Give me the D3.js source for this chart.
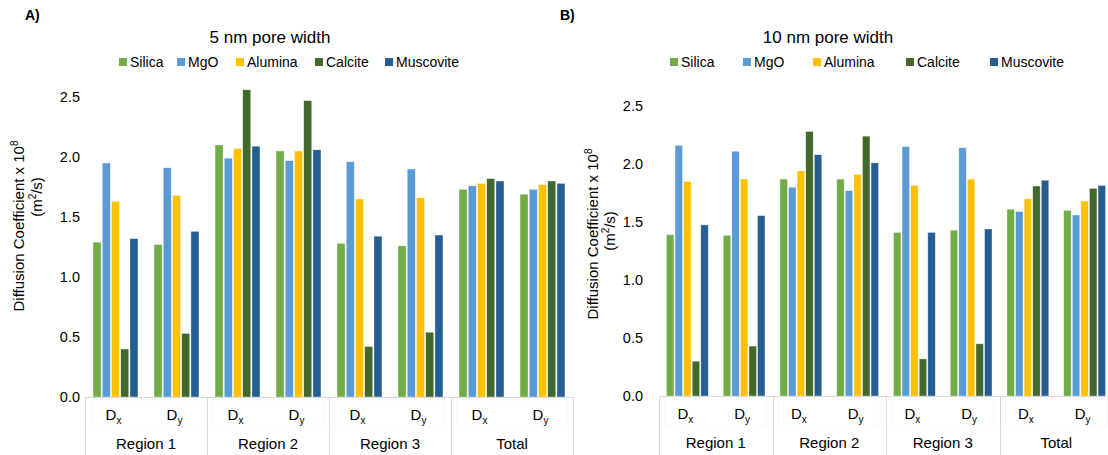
<!DOCTYPE html>
<html><head><meta charset="utf-8">
<script src="https://cdn.jsdelivr.net/npm/d3@7"></script>
<style>
body{margin:0;background:#fff;}
text{font-family:"Liberation Sans",Arial,sans-serif;fill:#404040;}
</style></head>
<body><svg id="c" width="1108" height="455"></svg>
<script>
const series = ["Silica","MgO","Alumina","Calcite","Muscovite"];
const colors = ["#70AD47","#5B9BD5","#FFC000","#43682B","#255E91"];
const regions = ["Region 1","Region 2","Region 3","Total"];
const dirs = ["x","y"];
const yTicks = [0,0.5,1.0,1.5,2.0,2.5];

// values per series, order: R1 Dx, R1 Dy, R2 Dx, R2 Dy, R3 Dx, R3 Dy, Total Dx, Total Dy
const silica5    = [1.29,1.27,2.10,2.05,1.28,1.26,1.73,1.69];
const mgo5       = [1.95,1.91,1.99,1.97,1.96,1.90,1.76,1.73];
const alumina5   = [1.63,1.68,2.07,2.05,1.65,1.66,1.78,1.77];
const calcite5   = [0.40,0.53,2.56,2.47,0.42,0.54,1.82,1.80];
const muscovite5 = [1.32,1.38,2.09,2.06,1.34,1.35,1.80,1.78];

const silica10    = [1.39,1.385,1.87,1.87,1.41,1.43,1.61,1.60];
const mgo10       = [2.16,2.11,1.80,1.77,2.15,2.14,1.59,1.56];
const alumina10   = [1.85,1.87,1.94,1.91,1.815,1.87,1.70,1.68];
const calcite10   = [0.30,0.43,2.28,2.24,0.32,0.45,1.81,1.79];
const muscovite10 = [1.475,1.555,2.08,2.01,1.41,1.44,1.86,1.815];

const svg = d3.select("#c");
const cats = [];
regions.forEach(r=>dirs.forEach(d=>cats.push(r+"|"+d)));

function chart(cfg){
  const g = svg.append("g");
  const x = d3.scaleBand().domain(cats).range([cfg.x0,cfg.x1]);
  const xs = d3.scaleBand().domain(series).range([0,x.bandwidth()]).paddingInner(0.13).paddingOuter(0.87);
  const y = d3.scaleLinear().domain([0,2.5]).range([cfg.yb,cfg.yt]);

  g.append("text").attr("x",cfg.letterX).attr("y",20).attr("font-size",14).attr("font-weight","bold")
    .style("fill","#000").text(cfg.letter);
  g.append("text").attr("x",cfg.titleX).attr("y",43).attr("text-anchor","middle").attr("font-size",17)
    .style("fill","#000").text(cfg.title);
  cfg.legendX.forEach((lx,i)=>{
    g.append("rect").attr("x",lx).attr("y",58).attr("width",8).attr("height",8).attr("fill",colors[i]);
    g.append("text").attr("x",lx+11).attr("y",67).attr("font-size",14).style("fill","#000").text(series[i]);
  });
  yTicks.forEach(t=>{
    g.append("text").attr("x",cfg.tickX).attr("y",y(t)+5).attr("text-anchor","end").attr("font-size",14.5)
      .style("fill","#000").text(d3.format(".1f")(t));
  });
  const t1 = g.append("text").attr("transform",`translate(${cfg.lab1X},${cfg.lab1Y}) rotate(-90)`)
    .attr("text-anchor","middle").attr("font-size",15).style("fill","#000");
  t1.append("tspan").text("Diffusion Coefficient x 10");
  t1.append("tspan").attr("dy",-6).attr("font-size",10).text("8");
  const t2 = g.append("text").attr("transform",`translate(${cfg.lab2X},${cfg.lab2Y}) rotate(-90)`)
    .attr("text-anchor","middle").attr("font-size",15).style("fill","#000");
  t2.append("tspan").text("(m");
  t2.append("tspan").attr("dy",-6).attr("font-size",10).text("2");
  t2.append("tspan").attr("dy",6).text("/s)");

  cfg.data.forEach((vals,si)=>{
    g.selectAll(null).data(vals).enter().append("rect")
      .attr("x",(v,i)=>x(cats[i])+xs(series[si]))
      .attr("y",v=>y(v))
      .attr("width",xs.bandwidth())
      .attr("height",v=>y(0)-y(v))
      .attr("fill",colors[si])
      .attr("stroke","#fff").attr("stroke-width",0.6).attr("stroke-opacity",0.6);
  });

  const lc = "#d9d9d9";
  g.append("line").attr("x1",cfg.x0).attr("x2",cfg.x1).attr("y1",cfg.yb+0.5).attr("y2",cfg.yb+0.5).attr("stroke",lc);
  const bounds = [0,2,4,6,8].map(i=> i<8 ? x(cats[i]) : cfg.x1);
  bounds.forEach(bx=>{
    g.append("line").attr("x1",Math.round(bx)+0.5).attr("x2",Math.round(bx)+0.5).attr("y1",cfg.yb).attr("y2",455).attr("stroke",lc);
  });
  regions.forEach((r,ri)=>{
    const a = x(cats[ri*2]), b = x(cats[ri*2+1])+x.bandwidth();
    g.append("rect").attr("x",a+6).attr("y",cfg.yb+3).attr("width",b-a-12).attr("height",27)
      .attr("fill","none").attr("stroke","#f8f8f8");
  });
  cats.forEach((c,i)=>{
    const cx = x(c)+x.bandwidth()/2;
    const tx = g.append("text").attr("x",cx-2).attr("y",cfg.yb+23).attr("text-anchor","middle").attr("font-size",15).style("fill","#000");
    tx.append("tspan").text("D");
    tx.append("tspan").attr("dy",4).attr("font-size",10).text(dirs[i%2]);
  });
  regions.forEach((r,ri)=>{
    const cx = x(cats[ri*2])+x.bandwidth();
    g.append("text").attr("x",cx).attr("y",cfg.yb+52).attr("text-anchor","middle").attr("font-size",15)
      .style("fill","#000").text(r);
  });
}

chart({x0:85,x1:573,yb:397,yt:97,letter:"A)",letterX:25,title:"5 nm pore width",titleX:270,
  legendX:[119,177,236,315,385],tickX:80,lab1X:24,lab1Y:226,lab2X:42,lab2Y:197,
  data:[silica5,mgo5,alumina5,calcite5,muscovite5]});
chart({x0:659,x1:1113,yb:396,yt:106,letter:"B)",letterX:560,title:"10 nm pore width",titleX:828,
  legendX:[670,743,813,906,990],tickX:643,lab1X:598,lab1Y:234,lab2X:615,lab2Y:231,
  data:[silica10,mgo10,alumina10,calcite10,muscovite10]});
</script></body></html>
